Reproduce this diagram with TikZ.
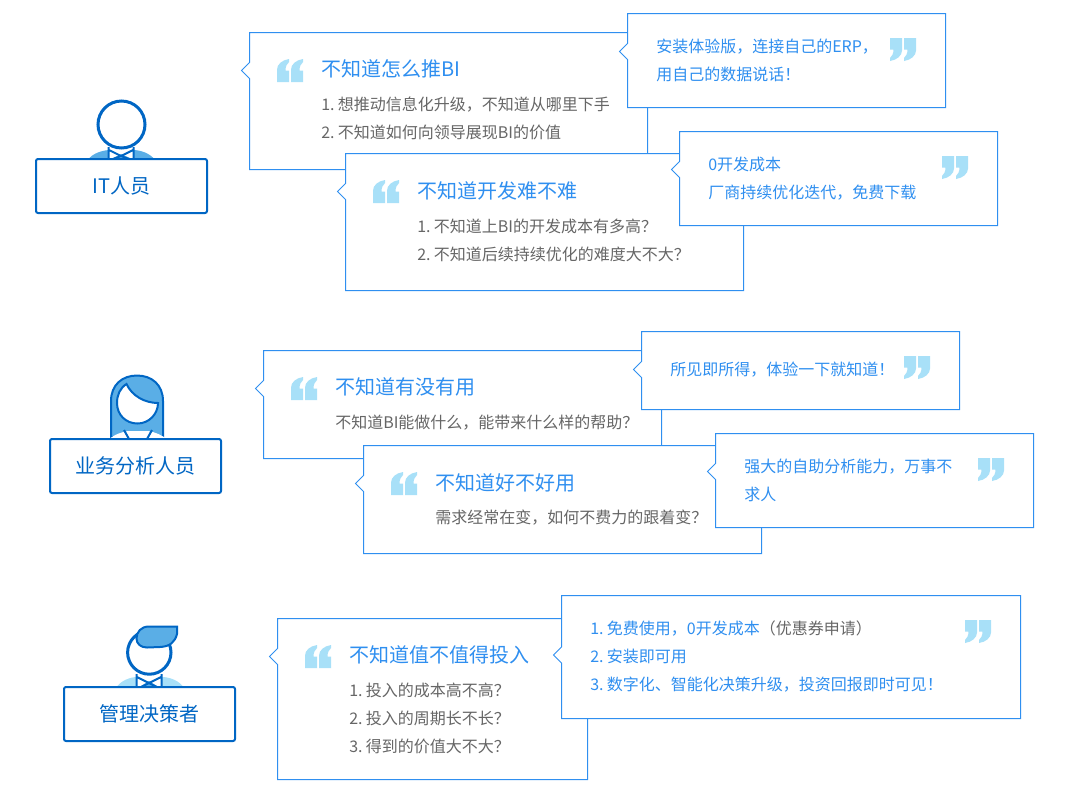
\documentclass[tikz,border=0pt]{standalone}
\usepackage{fontspec}
\setmainfont{Noto Sans CJK SC}
\definecolor{linkblue}{HTML}{2F8FF0}
\definecolor{deepblue}{HTML}{0066C4}
\definecolor{midblue}{HTML}{5AAEE6}
\definecolor{paleblue}{HTML}{A8E0F8}
\definecolor{bodygrey}{HTML}{666666}
\newcommand{\linefont}{\fontsize{12pt}{14pt}\selectfont\spaceskip=.13em\relax}
\tikzset{
  callbox/.style={draw=linkblue, line width=.75pt, fill=white},
  lbl/.style={anchor=west, inner sep=0pt, text height=.86em, text depth=.14em},
  titletext/.style={lbl, text=linkblue, font=\fontsize{15pt}{18pt}\selectfont},
  bodytext/.style={lbl, text=bodygrey, font=\linefont},
  answertext/.style={lbl, text=linkblue, font=\linefont},
  rolebox/.style={draw=deepblue, line width=1.5pt, fill=white, rounded corners=1.5pt,
    minimum width=128.25pt, minimum height=40.5pt, inner sep=0pt, text=deepblue,
    text height=1.2em, text depth=.074em, font=\fontsize{15pt}{18pt}\selectfont},
  figline/.style={draw=deepblue, line width=2.25pt},
  thinline/.style={draw=deepblue, line width=1.5pt},
  pics/quotemark/.style={code={
    \foreach \dx in {-13,1}
      \fill[paleblue] (\dx,11.5) -- (\dx+12,11.5) -- (\dx+12,0) -- (\dx+8.5,0)
        .. controls (\dx+8.5,-4) and (\dx+10,-7) .. (\dx+12,-8.5) -- (\dx+12,-11.5)
        .. controls (\dx+5,-10.5) and (\dx,-6) .. (\dx,-1) -- cycle;
  }}
}
\newcommand{\callout}[5]{\draw[callbox] (#1,#2) -- (#3,#2) -- (#3,#4) -- (#1,#4)
  -- (#1,#5+8) -- (#1-8,#5) -- (#1,#5-8) -- cycle;}
\begin{document}
\begin{tikzpicture}[x=.75pt,y=-.75pt]
\useasboundingbox (0,0) rectangle (1069,797);

% IT person
\fill[midblue] (88,160) .. controls (92,153) and (104,150) .. (110,150) -- (133,150) .. controls (140,150) and (150,153) .. (155,160) -- cycle;
\fill[white] (108,146) rectangle (134,160);
\fill[midblue] (113,158) -- (121,154) -- (130,158) -- (130,160) -- (113,160) -- cycle;
\draw[thinline] (108.5,147) -- (108.5,159) (133.5,147) -- (133.5,159)
  (109,150) -- (121,156) -- (133,150) (113,159) -- (121,156) -- (129,159);
\draw[figline, fill=white] (121.5,124.5) circle (23.5);
\node[rolebox] (itrole) at (121.5,186) {IT人员};

% callouts of the IT person
\callout{249.5}{32.5}{647.5}{169.5}{70.5}
\pic at (290,70.5) {quotemark};
\node[titletext] (itq1) at (321,72) {不知道怎么推BI};
\node[bodytext] (itq1a) at (321,106) {1. 想推动信息化升级，不知道从哪里下手};
\node[bodytext] (itq1b) at (321,134) {2. 不知道如何向领导展现BI的价值};
\callout{627.5}{13.5}{945.5}{107.5}{51.5}
\pic[rotate=180] at (903,49.5) {quotemark};
\node[answertext] (ita1a) at (656,48) {安装体验版，连接自己的ERP，};
\node[answertext] (ita1b) at (656,76) {用自己的数据说话！};
\callout{345.5}{153.5}{743.5}{290.5}{191.5}
\pic at (386,191.5) {quotemark};
\node[titletext] (itq2) at (417,193.5) {不知道开发难不难};
\node[bodytext] (itq2a) at (417,228) {1. 不知道上BI的开发成本有多高？};
\node[bodytext] (itq2b) at (417,256) {2. 不知道后续持续优化的难度大不大？};
\callout{679.5}{131.5}{997.5}{225.5}{169.5}
\pic[rotate=180] at (955,167.5) {quotemark};
\node[answertext] (ita2a) at (708,166) {0开发成本};
\node[answertext] (ita2b) at (708,194) {厂商持续优化迭代，免费下载};

% analyst
\draw[thinline, fill=midblue] (111,437) -- (111,401) .. controls (111,385) and (122,375.5) .. (137,375.5)
  .. controls (152,375.5) and (163,385) .. (163,401) -- (163,437) -- cycle;
\fill[white] (108,440) .. controls (115,434) and (122,432) .. (128,431) -- (148,431) .. controls (155,432) and (162,435) .. (168,440) -- cycle;
\draw[thinline] (124,430) -- (129,439) (152,430) -- (147,439);
\draw[thinline, fill=white] (126.5,384) .. controls (120,388) and (117,395) .. (117,403)
  .. controls (117,415) and (126,423.5) .. (137.5,423.5) .. controls (149,423.5) and (158,414) .. (158,403)
  .. controls (145,403) and (132,396) .. (126.5,384) -- cycle;
\node[rolebox] (analystrole) at (135.5,466) {业务分析人员};

% callouts of the analyst
\callout{263.5}{350.5}{661.5}{458.5}{388.5}
\pic at (304,388.5) {quotemark};
\node[titletext] (anq1) at (335,390) {不知道有没有用};
\node[bodytext] (anq1a) at (335,424) {不知道BI能做什么，能带来什么样的帮助？};
\callout{641.5}{331.5}{959.5}{409.5}{369.5}
\pic[rotate=180] at (917,367.5) {quotemark};
\node[answertext] (ana1) at (670,371) {所见即所得，体验一下就知道！};
\callout{363.5}{445.5}{761.5}{553.5}{483.5}
\pic at (404,483.5) {quotemark};
\node[titletext] (anq2) at (435,486) {不知道好不好用};
\node[bodytext] (anq2a) at (435,519) {需求经常在变，如何不费力的跟着变？};
\callout{715.5}{433.5}{1033.5}{527.5}{471.5}
\pic[rotate=180] at (991,469.5) {quotemark};
\node[answertext] (ana2a) at (744,468) {强大的自助分析能力，万事不};
\node[answertext] (ana2b) at (744,496) {求人};

% manager
\fill[paleblue] (116,688) .. controls (120,681) and (130,677) .. (137,677) -- (162,677) .. controls (170,677) and (180,681) .. (184,688) -- cycle;
\fill[white] (136,673) rectangle (162,688);
\fill[midblue] (141,686) -- (149,681) -- (157,686) -- (157,688) -- (141,688) -- cycle;
\draw[thinline] (136.5,674) -- (136.5,687) (161.5,674) -- (161.5,687)
  (137,677) -- (149,683) -- (161,677) (141,687) -- (149,683) -- (157,687);
\draw[figline, fill=white] (149.3,652.5) circle (21.7);
\draw[thinline, fill=midblue] (177,626.5) -- (177,634) .. controls (175,642) and (170,646.5) .. (160,647)
  -- (147,647.5) .. controls (141,647.5) and (136.5,644) .. (136.5,638.5) .. controls (136.5,632) and (141,626.5) .. (149,626.5) -- cycle;
\node[rolebox] (managerrole) at (149.5,714) {管理决策者};

% callouts of the manager
\callout{277.5}{618.5}{587.5}{779.5}{656.5}
\pic at (318,656.5) {quotemark};
\node[titletext] (maq1) at (349,658) {不知道值不值得投入};
\node[bodytext] (maq1a) at (349,692) {1. 投入的成本高不高？};
\node[bodytext] (maq1b) at (349,720) {2. 投入的周期长不长？};
\node[bodytext] (maq1c) at (349,748) {3. 得到的价值大不大？};
\callout{561.5}{595.5}{1020.5}{718.5}{655}
\pic[rotate=180] at (978,631.5) {quotemark};
\node[answertext] (maa1a) at (590,630) {1. 免费使用，0开发成本\textcolor{bodygrey}{（优惠券申请）}};
\node[answertext] (maa1b) at (590,658) {2. 安装即可用};
\node[answertext] (maa1c) at (590,686) {3. 数字化、智能化决策升级，投资回报即时可见！};
\end{tikzpicture}
\end{document}
